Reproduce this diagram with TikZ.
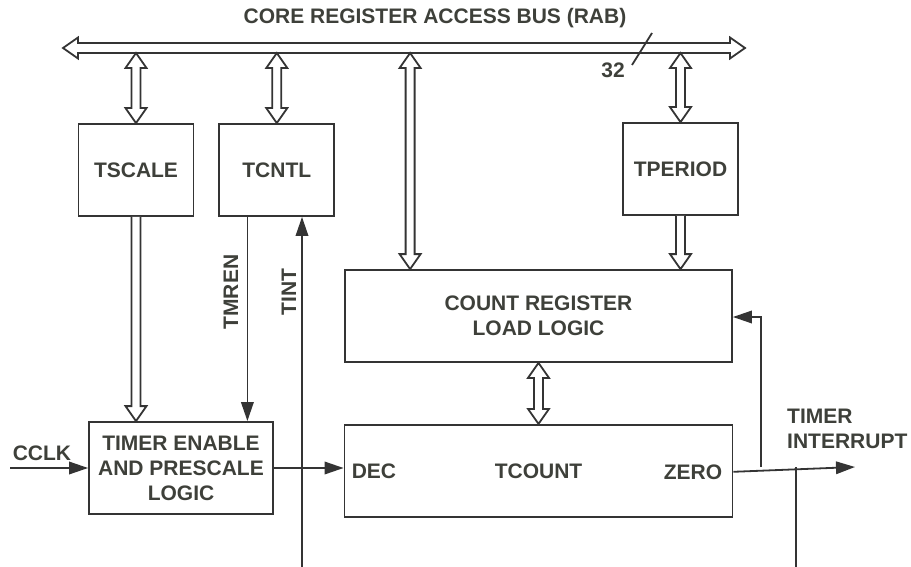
\documentclass[tikz,border=0pt]{standalone}
\usepackage{fontspec}
\setmainfont{Liberation Sans}
\usepackage{tikz}
\usetikzlibrary{arrows.meta, positioning, calc}
\definecolor{ink}{RGB}{52,52,52}
\definecolor{txt}{RGB}{62,64,58}
\tikzset{
  lbl/.style={text=txt, font=\fontsize{21}{25}\selectfont\bfseries,
              align=center, inner sep=0pt},
  reg/.style={lbl, rectangle, draw=ink, line width=1.8pt,
              minimum width=115pt, minimum height=92pt},
  logic/.style={reg, minimum width=387pt},
  sig/.style={draw=ink, line width=1.8pt,
              -{Triangle[length=19pt, width=12.5pt]}},
  wire/.style={draw=ink, line width=1.8pt},
  % hollow bus arrows (shaft 9pt, head 21pt x 15pt)
  dbl/.style={wire, fill=white, line join=miter,
    to path={let \p1=(\tikztostart), \p2=(\tikztotarget) in
      (\x1,\y1) -- (\x1+10.5pt,\y1-15pt) -- (\x1+4.5pt,\y1-15pt)
      -- (\x1+4.5pt,\y2+15pt) -- (\x1+10.5pt,\y2+15pt) -- (\x1,\y2)
      -- (\x1-10.5pt,\y2+15pt) -- (\x1-4.5pt,\y2+15pt)
      -- (\x1-4.5pt,\y1-15pt) -- (\x1-10.5pt,\y1-15pt) -- cycle}},
  one/.style={wire, fill=white, line join=miter,
    to path={let \p1=(\tikztostart), \p2=(\tikztotarget) in
      (\x1-4.5pt,\y1) -- (\x1-4.5pt,\y2+15pt) -- (\x1-10.5pt,\y2+15pt)
      -- (\x1,\y2) -- (\x1+10.5pt,\y2+15pt) -- (\x1+4.5pt,\y2+15pt)
      -- (\x1+4.5pt,\y1)}},
  hbus/.style={wire, fill=white, line join=miter,
    to path={let \p1=(\tikztostart), \p2=(\tikztotarget) in
      (\x1,\y1) -- (\x1+15pt,\y1+10.5pt) -- (\x1+15pt,\y1+5pt)
      -- (\x2-15pt,\y1+5pt) -- (\x2-15pt,\y1+10.5pt) -- (\x2,\y1)
      -- (\x2-15pt,\y1-10.5pt) -- (\x2-15pt,\y1-5pt)
      -- (\x1+15pt,\y1-5pt) -- (\x1+15pt,\y1-10.5pt) -- cycle}},
}

\begin{document}
\begin{tikzpicture}[x=1pt, y=-1pt]
  \useasboundingbox (0,0) rectangle (911,567);

  % register access bus
  \coordinate (busw) at (63,48);
  \coordinate (buse) at (745,48);
  \coordinate (busb) at (0,53);
  \draw[hbus] (busw) to (buse);
  \node[lbl] (buslbl) at (435,18) {CORE REGISTER ACCESS BUS (RAB)};
  \coordinate (slasha) at (632,65);
  \coordinate (slashb) at (652,33);
  \draw[wire] (slasha) -- (slashb);
  \node[lbl] (width) at (613,70) {32};

  % registers
  \node[reg] (tscale) at (136,170) {TSCALE};
  \node[reg, right=24pt of tscale] (tcntl) {TCNTL};
  \node[reg] (tperiod) at (680.5,169) {TPERIOD};
  \node[logic] (creg) at (538.5,316) {COUNT REGISTER\\LOAD LOGIC};
  \node[logic, minimum width=388pt, below=61pt of creg] (tcount) {TCOUNT};
  \node[reg, minimum width=184pt] (tenable) at (181,468)
    {TIMER ENABLE\\AND PRESCALE\\LOGIC};
  \node[lbl, anchor=west] (dec) at ([xshift=8pt]tcount.west) {DEC};
  \node[lbl, anchor=east] (zero) at ([xshift=-11pt,yshift=-1pt]tcount.east) {ZERO};

  % bus connections
  \coordinate (cregin) at ([xshift=66pt]creg.north west);
  \draw[dbl] (tscale.north |- busb) to (tscale.north);
  \draw[dbl] (tcntl.north |- busb) to (tcntl.north);
  \draw[dbl] (tperiod.north |- busb) to (tperiod.north);
  \draw[dbl] (cregin |- busb) to (cregin);
  \draw[one] (tscale.south) to (tscale.south |- tenable.north);
  \draw[one] (tperiod.south) to (tperiod.south |- creg.north);
  \draw[dbl] (creg.south) to (tcount.north);

  % control signals
  \coordinate (cclk) at (10,468);
  \draw[sig] (cclk) -- (cclk -| tenable.west);
  \node[lbl] (cclklbl) at (42,453) {CCLK};
  \draw[sig] (tenable.east) -- (tenable.east -| tcount.west);
  \coordinate (tmren) at ([xshift=29pt]tcntl.south west);
  \draw[sig] (tmren) -- (tmren |- tenable.north);
  \node[lbl, rotate=90] (tmrenlbl) at (231,292) {TMREN};
  \coordinate (tint) at (302,567);
  \draw[sig] (tint) -- (tint |- tcntl.south);
  \node[lbl, rotate=90] (tintlbl) at (289,292) {TINT};

  % zero output
  \coordinate (zout) at (tcount.east |- zero);
  \coordinate (irq) at (855,467);
  \coordinate (fb) at (761,467);
  \coordinate (tap) at (796,467);
  \coordinate (tapend) at (796,567);
  \draw[sig] (zout) -- (irq);
  \draw[sig] (fb) |- ([yshift=-1pt]creg.east);
  \draw[wire] (tap) -- (tapend);
  \node[lbl, anchor=west, align=left] (irqlbl) at (787,429) {TIMER\\INTERRUPT};
\end{tikzpicture}
\end{document}
